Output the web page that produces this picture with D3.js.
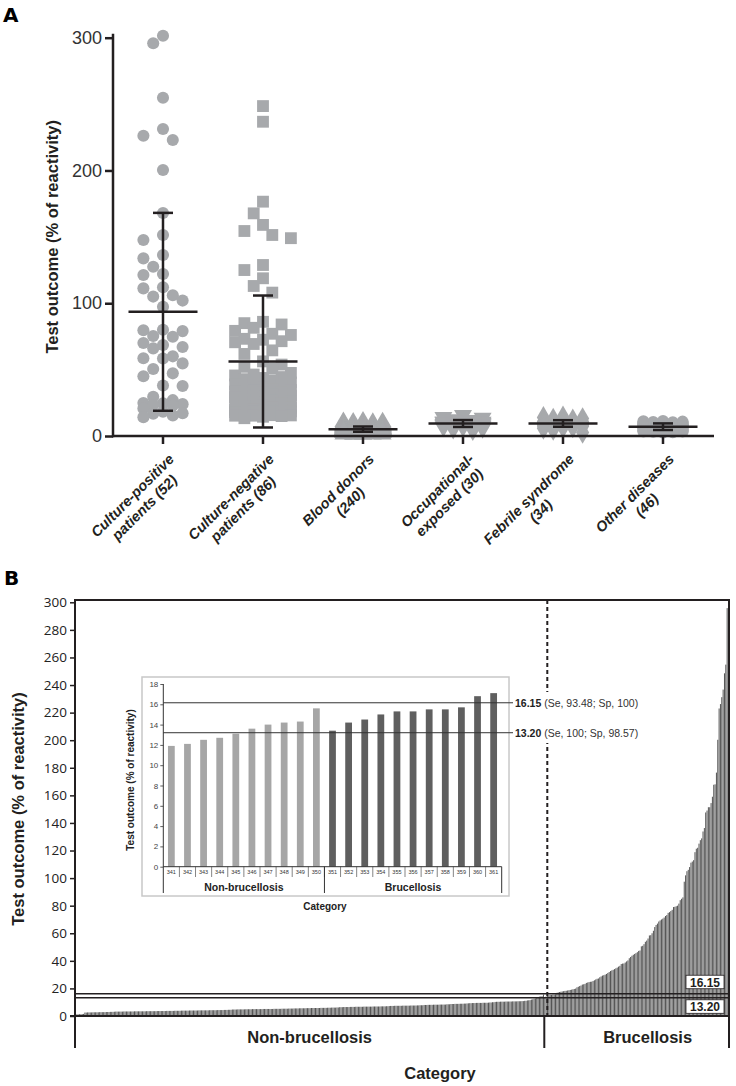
<!DOCTYPE html>
<html>
<head>
<meta charset="utf-8">
<script src="https://cdn.jsdelivr.net/npm/d3@7"></script>
<style>
  body { margin: 0; background: #fff; }
  svg { display: block; }
  text { font-family: "Liberation Sans", Arial, sans-serif; }
</style>
</head>
<body>
<svg id="chart" width="736" height="1086"></svg>
<script>
// Values (% of reactivity), one array per group
const culturePositive = [301.5, 295.8, 254.8, 231.2, 226.2, 223.0, 200.3, 168.0, 151.4, 147.6, 136.3, 133.8, 127.5, 122.0, 121.3, 112.0, 111.2, 106.0, 105.0, 102.0, 97.4, 80.0, 79.6, 79.0, 75.3, 74.8, 70.0, 68.5, 67.0, 66.0, 60.0, 58.6, 58.4, 54.7, 50.5, 47.2, 45.0, 38.0, 37.7, 29.6, 27.0, 24.8, 24.6, 24.0, 23.3, 23.0, 20.8, 18.3, 17.1, 16.8, 15.5, 14.2];

const cultureNegative = [248.5, 236.7, 176.5, 167.7, 159.0, 154.4, 151.4, 149.0, 128.8, 125.0, 118.8, 113.0, 108.0,
  86.0, 85.0, 84.0, 81.5, 79.2, 77.0, 76.1, 73.2, 72.5, 71.4, 70.6, 69.3, 64.5, 61.8,
  56.2, 53.8, 52.1, 50.9, 47.5, 46.3, 45.6, 44.4, 43.7, 42.8, 41.9, 40.3, 39.6, 38.8, 38.1,
  36.4, 35.8, 35.1, 34.6, 34.0, 33.5, 33.1, 32.6, 31.9, 31.2, 30.5, 30.0, 29.3, 28.7, 28.1,
  27.2, 26.5, 25.9, 25.4, 24.9, 24.3, 22.8, 22.1, 21.7, 21.2,
  19.9, 19.6, 19.4, 19.1, 18.9, 18.7, 18.5, 18.2, 18.0, 17.8, 17.6, 17.4,
  15.7, 15.5, 15.3, 15.3, 15.0, 14.5, 13.4];

const bloodDonors = [1.1, 1.2, 1.2, 1.3, 1.3, 1.4, 1.5,
  2.5, 2.5, 2.6, 2.6, 2.6, 2.7, 2.7, 2.7, 2.7, 2.8, 2.8, 2.8, 2.8, 2.9, 2.9, 2.9, 3.0, 3.0, 3.0, 3.1,
  3.2, 3.2, 3.2, 3.2, 3.2, 3.2, 3.3, 3.3, 3.3, 3.3, 3.3, 3.3, 3.3, 3.4, 3.4, 3.4, 3.4, 3.4, 3.4, 3.4, 3.4,
  3.5, 3.5, 3.5, 3.5, 3.5, 3.5, 3.5, 3.6, 3.6, 3.6, 3.6, 3.6, 3.6, 3.7, 3.7, 3.7, 3.7, 3.7, 3.7,
  3.8, 3.8, 3.8, 3.8, 3.8, 3.9, 3.9, 3.9, 3.9, 3.9, 3.9, 4.0, 4.0, 4.0, 4.0, 4.0, 4.0, 4.1, 4.1, 4.1, 4.1, 4.1, 4.1,
  4.2, 4.2, 4.2, 4.2, 4.2, 4.3, 4.3, 4.3, 4.3, 4.4, 4.4, 4.4, 4.5, 4.5, 4.5,
  4.7, 4.7, 4.7, 4.7, 4.8, 4.8, 4.8, 4.8, 4.8, 4.9, 4.9, 4.9, 4.9, 4.9, 5.0, 5.0, 5.0, 5.0, 5.0, 5.0,
  5.1, 5.1, 5.1, 5.1, 5.1, 5.1, 5.2, 5.2, 5.2, 5.2, 5.2, 5.3, 5.3, 5.3, 5.3, 5.3, 5.4, 5.4, 5.4, 5.4,
  5.5, 5.5, 5.5, 5.5, 5.6, 5.6, 5.6, 5.6, 5.7, 5.7, 5.7, 5.7, 5.8, 5.8, 5.8, 5.8, 5.9, 5.9, 5.9, 5.9,
  6.0, 6.0, 6.0, 6.1, 6.1, 6.1, 6.2, 6.2,
  6.4, 6.4, 6.4, 6.5, 6.5, 6.5, 6.5, 6.6, 6.6, 6.6, 6.6, 6.7, 6.7, 6.7, 6.7, 6.8, 6.8, 6.8, 6.8,
  6.9, 6.9, 6.9, 6.9, 7.0, 7.0, 7.0, 7.1, 7.1,
  7.3, 7.3, 7.3, 7.4, 7.4, 7.4, 7.5, 7.5, 7.5, 7.6, 7.6, 7.7, 7.7, 7.8, 7.8,
  8.0, 8.0, 8.1, 8.1, 8.2, 8.2, 8.3, 8.3, 8.5, 8.5,
  8.7, 8.8, 8.9, 9.0, 9.1, 9.3, 9.5, 9.6, 9.8, 10.0, 10.3, 10.5, 10.7, 11.0];

const occupational = [4.1, 5.1, 5.8, 6.8, 6.9, 7.4, 7.5, 7.6, 8.1, 8.2, 8.3, 8.7, 8.8, 8.9, 9.4, 9.5, 9.5, 9.6, 10.3, 10.4, 10.5, 10.5, 10.6, 10.7, 11.4, 11.9, 12.5, 13.6, 14.2, 15.6];

const febrile = [2.7, 5.0, 5.8, 6.7, 6.8, 7.4, 7.5, 7.6, 8.1, 8.2, 8.3, 8.8, 8.9, 9.3, 9.4, 9.5, 9.5, 9.6, 9.7, 10.3, 10.4, 10.4, 10.5, 10.5, 10.6, 10.6, 10.7, 10.8, 11.5, 12.1, 12.7, 13.1, 14.0, 14.3];

const otherDiseases = [2.6, 2.8, 3.3, 3.4, 3.5, 3.6, 4.0, 4.1, 4.2, 4.3, 4.8, 5.0, 5.1, 5.2, 5.6, 5.8, 5.9, 6.1, 6.5, 6.7, 6.8, 6.9, 7.0, 7.2, 7.4, 7.5, 7.6, 7.8, 8.0, 8.2, 8.3, 8.5, 8.7, 8.8, 9.0, 9.2, 9.4, 9.6, 9.8, 10.0, 10.2, 10.4, 10.6, 10.8, 11.0, 11.3];

const groupLabels = [
  ["Culture-positive", "patients (52)"],
  ["Culture-negative", "patients (86)"],
  ["Blood donors", "(240)"],
  ["Occupational-", "exposed (30)"],
  ["Febrile syndrome", "(34)"],
  ["Other diseases", "(46)"]
];
const ticksA = [0, 100, 200, 300];
const ticksB = [0, 20, 40, 60, 80, 100, 120, 140, 160, 180, 200, 220, 240, 260, 280, 300];
const ticksInset = [0, 2, 4, 6, 8, 10, 12, 14, 16, 18];
const cutoffs = [16.15, 13.20];
const cutoffNotes = [" (Se, 93.48; Sp, 100)", " (Se, 100; Sp, 98.57)"];
const categoriesB = ["Non-brucellosis", "Brucellosis"];

const svg = d3.select("#chart");
const ink = "#231f20";
const dotFill = "#a7a9ac";

// ---------- Panel A ----------
const groupsA = [
  { values: culturePositive, symbol: d3.symbolCircle, size: 115, rot: 0, spread: 2 },
  { values: cultureNegative, symbol: d3.symbolSquare, size: 140, rot: 0, spread: 3 },
  { values: bloodDonors, symbol: d3.symbolTriangle, size: 140, rot: 0, spread: 2 },
  { values: occupational, symbol: d3.symbolTriangle, size: 140, rot: 180, spread: 2 },
  { values: febrile, symbol: d3.symbolDiamond, size: 150, rot: 0, spread: 2 },
  { values: otherDiseases, symbol: d3.symbolCircle, size: 115, rot: 0, spread: 2 }
];

const yA = d3.scaleLinear().domain([0, 300]).range([436, 37.7]);
const xA = d3.scalePoint().domain(d3.range(groupsA.length)).range([163, 663]);

svg.append("text")
  .attr("x", 3).attr("y", 22)
  .style("font-family", "DejaVu Sans")
  .attr("font-size", 20).attr("font-weight", "bold")
  .text("A");

// simple beeswarm: try centre, then side slots
function swarm(values, y, step, maxK, minD) {
  const pts = values.map((v) => ({ v, y: y(v) })).sort((a, b) => b.v - a.v);
  const offs = [0];
  for (let k = 1; k <= maxK; k++) offs.push(-k * step, k * step);
  const placed = [];
  pts.forEach((p) => {
    let best = 0, bestScore = -1;
    for (const o of offs) {
      let md = Infinity;
      for (const q of placed) {
        const d = Math.hypot(q.dx - o, q.y - p.y);
        if (d < md) md = d;
      }
      if (md >= minD) { best = o; break; }
      if (md > bestScore) { bestScore = md; best = o; }
    }
    p.dx = best;
    placed.push(p);
  });
  return pts;
}

const gA = svg.append("g");

groupsA.forEach((grp, i) => {
  const cx = xA(i);
  const pts = swarm(grp.values, yA, grp.spread === 3 ? 9.3 : 9.8, grp.spread, 12);
  gA.append("g")
    .selectAll("path")
    .data(pts)
    .join("path")
    .attr("transform", (d) => `translate(${cx + d.dx},${d.y}) rotate(${grp.rot})`)
    .attr("d", d3.symbol(grp.symbol, grp.size))
    .attr("fill", dotFill);

  const m = d3.mean(grp.values);
  const s = d3.deviation(grp.values);
  const eg = gA.append("g").attr("stroke", ink).attr("stroke-width", 2.5);
  eg.append("line").attr("x1", cx - 34.5).attr("x2", cx + 34.5).attr("y1", yA(m)).attr("y2", yA(m));
  eg.append("line").attr("x1", cx).attr("x2", cx).attr("y1", yA(m - s)).attr("y2", yA(m + s));
  [m - s, m + s].forEach((v) => {
    eg.append("line").attr("x1", cx - 10).attr("x2", cx + 10).attr("y1", yA(v)).attr("y2", yA(v));
  });
});

// axes A
const axA = gA.append("g")
  .attr("transform", "translate(113,0)")
  .call(d3.axisLeft(yA).tickValues(ticksA).tickSize(8).tickPadding(3));
axA.select(".domain").remove();
axA.selectAll("line").attr("stroke", ink).attr("stroke-width", 2.5);
axA.selectAll("text").attr("font-size", 18).attr("fill", "#333");

gA.append("line").attr("x1", 113).attr("x2", 113).attr("y1", yA(303)).attr("y2", yA(0) + 1.2)
  .attr("stroke", ink).attr("stroke-width", 2.5);
gA.append("line").attr("x1", 112).attr("x2", 714).attr("y1", yA(0)).attr("y2", yA(0))
  .attr("stroke", ink).attr("stroke-width", 2.5);

groupLabels.forEach((lab, i) => {
  const x = xA(i);
  gA.append("line").attr("x1", x).attr("x2", x).attr("y1", yA(0)).attr("y2", yA(0) + 8)
    .attr("stroke", ink).attr("stroke-width", 2.5);
  const g = gA.append("g")
    .attr("transform", `translate(${x + 12},${460}) rotate(-45)`)
    .attr("font-size", 14.5).attr("font-weight", "bold").attr("font-style", "italic").attr("fill", ink);
  const t1 = g.append("text").attr("text-anchor", "end").text(lab[0]);
  const L = t1.node().getComputedTextLength();
  g.append("text").attr("text-anchor", "middle").attr("x", -L / 2).attr("y", 17).text(lab[1]);
});

gA.append("text")
  .attr("transform", `translate(58,${(yA(0) + yA(300)) / 2}) rotate(-90)`)
  .attr("text-anchor", "middle")
  .attr("font-size", 16.5).attr("font-weight", "bold").attr("fill", ink)
  .text("Test outcome (% of reactivity)");

// ---------- Panel B ----------
const nonBrucellosis = d3.sort(bloodDonors.concat(occupational, febrile, otherDiseases));
const brucellosis = d3.sort(culturePositive.concat(cultureNegative));
const allSorted = nonBrucellosis.concat(brucellosis);

const bLeft = 75, bRight = 729, bTop = 600, bBase = 1016, catBottom = 1048;
const yB = d3.scaleLinear().domain([0, 300]).range([bBase, 602.3]);
const xB = d3.scaleBand().domain(d3.range(allSorted.length)).range([bLeft, bRight]).paddingInner(0.25);
const split = bLeft + xB.step() * nonBrucellosis.length;

svg.append("text")
  .attr("x", 4).attr("y", 585)
  .style("font-family", "DejaVu Sans")
  .attr("font-size", 20).attr("font-weight", "bold")
  .text("B");

const gB = svg.append("g");

gB.append("g")
  .selectAll("rect")
  .data(allSorted)
  .join("rect")
  .attr("x", (d, i) => xB(i))
  .attr("width", xB.bandwidth())
  .attr("y", (d) => yB(Math.min(d, 300)))
  .attr("height", (d) => bBase - yB(Math.min(d, 300)))
  .attr("fill", "#555");

const axB = gB.append("g")
  .attr("transform", `translate(${bLeft},0)`)
  .call(d3.axisLeft(yB).tickValues(ticksB).tickSize(5).tickPadding(3));
axB.select(".domain").remove();
axB.selectAll("line").attr("stroke", ink).attr("stroke-width", 1.5);
axB.selectAll("text").style("font-family", "Open Sans").attr("font-size", 13.5).attr("fill", "#222");

const frame = gB.append("g").attr("stroke", ink).attr("stroke-width", 2).attr("fill", "none");
frame.append("path").attr("d", `M${bLeft},${catBottom}V${bTop}H${bRight}V${catBottom}`);
frame.append("line").attr("x1", bLeft - 5).attr("x2", bRight).attr("y1", bBase).attr("y2", bBase);
frame.append("line").attr("x1", split).attr("x2", split).attr("y1", bBase).attr("y2", catBottom);

gB.append("g")
  .selectAll("line")
  .data(cutoffs)
  .join("line")
  .attr("x1", bLeft).attr("x2", bRight)
  .attr("y1", (d) => yB(d)).attr("y2", (d) => yB(d))
  .attr("stroke", ink).attr("stroke-width", 1.5);

gB.append("line")
  .attr("x1", split + 3).attr("x2", split + 3).attr("y1", bTop).attr("y2", bBase)
  .attr("stroke", ink).attr("stroke-width", 2).attr("stroke-dasharray", "4,3");

// cutoff boxes on the right
cutoffs.forEach((c, i) => {
  const by = i === 0 ? yB(c) - 18.5 : yB(c) + 2;
  gB.append("rect").attr("x", 686).attr("y", by).attr("width", 38).attr("height", 13.5)
    .attr("fill", "#fff").attr("stroke", ink).attr("stroke-width", 0.8);
  gB.append("text").attr("x", 705).attr("y", by + 11.5).attr("text-anchor", "middle")
    .attr("font-size", 12).attr("font-weight", "bold").attr("fill", ink)
    .text(c.toFixed(2));
});

const catX = [(bLeft + split) / 2, (split + bRight) / 2 + 11];
categoriesB.forEach((c, i) => {
  gB.append("text").attr("x", catX[i]).attr("y", 1043).attr("text-anchor", "middle")
    .attr("font-size", 16.5).attr("font-weight", "bold").attr("fill", ink).text(c);
});
gB.append("text").attr("x", 440).attr("y", 1079).attr("text-anchor", "middle")
  .attr("font-size", 16.5).attr("font-weight", "bold").attr("fill", ink).text("Category");

gB.append("text")
  .attr("transform", `translate(24,809) rotate(-90)`)
  .attr("text-anchor", "middle")
  .attr("font-size", 16.5).attr("font-weight", "bold").attr("fill", ink)
  .text("Test outcome (% of reactivity)");

// ---------- Inset (ranks 341-361) ----------
const insetStart = 340, insetEnd = 361;
const insetValues = allSorted.slice(insetStart, insetEnd);
const insetLabels = d3.range(insetStart + 1, insetEnd + 1);

const iL = 163.3, iR = 501.7, iBase = 866.7, iCellB = 877, iGroupB = 893;
const yI = d3.scaleLinear().domain([0, 18]).range([iBase, 684]);
const xI = d3.scaleBand().domain(insetLabels).range([iL, iR]).paddingInner(0.58).paddingOuter(0.29);
const iSplit = iL + xI.step() * (nonBrucellosis.length - insetStart);

const gI = svg.append("g");
gI.append("rect").attr("x", 142).attr("y", 677).attr("width", 367).attr("height", 219)
  .attr("fill", "#fff").attr("stroke", "#c8c8c8").attr("stroke-width", 1.5);

gI.append("g")
  .selectAll("rect")
  .data(insetValues)
  .join("rect")
  .attr("x", (d, i) => xI(insetLabels[i]))
  .attr("width", xI.bandwidth())
  .attr("y", (d) => yI(d))
  .attr("height", (d) => iBase - yI(d))
  .attr("fill", (d, i) => (insetLabels[i] <= nonBrucellosis.length ? "#a6a6a6" : "#5f5f5f"));

const axI = gI.append("g")
  .attr("transform", `translate(${iL},0)`)
  .call(d3.axisLeft(yI).tickValues(ticksInset).tickSize(3).tickPadding(2));
axI.select(".domain").remove();
axI.selectAll("line").attr("stroke", "#333").attr("stroke-width", 0.8);
axI.selectAll("text").attr("font-size", 8).attr("fill", "#444");

const iAx = gI.append("g").attr("stroke", "#333").attr("stroke-width", 1);
iAx.append("line").attr("x1", iL).attr("x2", iL).attr("y1", 684).attr("y2", iGroupB);
iAx.append("line").attr("x1", iL).attr("x2", iR).attr("y1", iBase).attr("y2", iBase);
iAx.append("line").attr("x1", iSplit).attr("x2", iSplit).attr("y1", iBase).attr("y2", iGroupB);
iAx.append("line").attr("x1", iR).attr("x2", iR).attr("y1", iBase).attr("y2", iGroupB);
iAx.selectAll(".cell")
  .data(insetLabels.slice(1))
  .join("line")
  .attr("class", "cell")
  .attr("x1", (d, i) => iL + xI.step() * (i + 1))
  .attr("x2", (d, i) => iL + xI.step() * (i + 1))
  .attr("y1", iBase).attr("y2", iCellB)
  .attr("stroke-width", 0.6);

gI.append("g")
  .selectAll("text")
  .data(insetLabels)
  .join("text")
  .attr("x", (d) => xI(d) + xI.bandwidth() / 2)
  .attr("y", 874)
  .attr("text-anchor", "middle")
  .attr("font-size", 5.5).attr("fill", "#333")
  .text((d) => d);

const iCatX = [(iL + iSplit) / 2, (iSplit + iR) / 2];
categoriesB.forEach((c, i) => {
  gI.append("text").attr("x", iCatX[i]).attr("y", 891).attr("text-anchor", "middle")
    .attr("font-size", 10.5).attr("font-weight", "bold").attr("fill", "#222").text(c);
});
gI.append("text").attr("x", 325).attr("y", 910).attr("text-anchor", "middle")
  .attr("font-size", 10).attr("font-weight", "bold").attr("fill", "#222").text("Category");
gI.append("text")
  .attr("transform", "translate(134,780) rotate(-90)")
  .attr("text-anchor", "middle")
  .attr("font-size", 10).attr("font-weight", "bold").attr("fill", "#222")
  .text("Test outcome (% of reactivity)");

gI.append("g")
  .selectAll("line")
  .data(cutoffs)
  .join("line")
  .attr("x1", iL).attr("x2", 513)
  .attr("y1", (d) => yI(d)).attr("y2", (d) => yI(d))
  .attr("stroke", "#333").attr("stroke-width", 1);

gI.append("rect").attr("x", 513.5).attr("y", 692).attr("width", 127).attr("height", 51).attr("fill", "#fff");
cutoffs.forEach((c, i) => {
  const t = gI.append("text").attr("x", 515).attr("y", yI(c) + 3.8)
    .attr("font-size", 10.5).attr("fill", "#333");
  t.append("tspan").attr("font-weight", "bold").attr("fill", "#222").text(c.toFixed(2));
  t.append("tspan").text(cutoffNotes[i]);
});
</script>
</body>
</html>
